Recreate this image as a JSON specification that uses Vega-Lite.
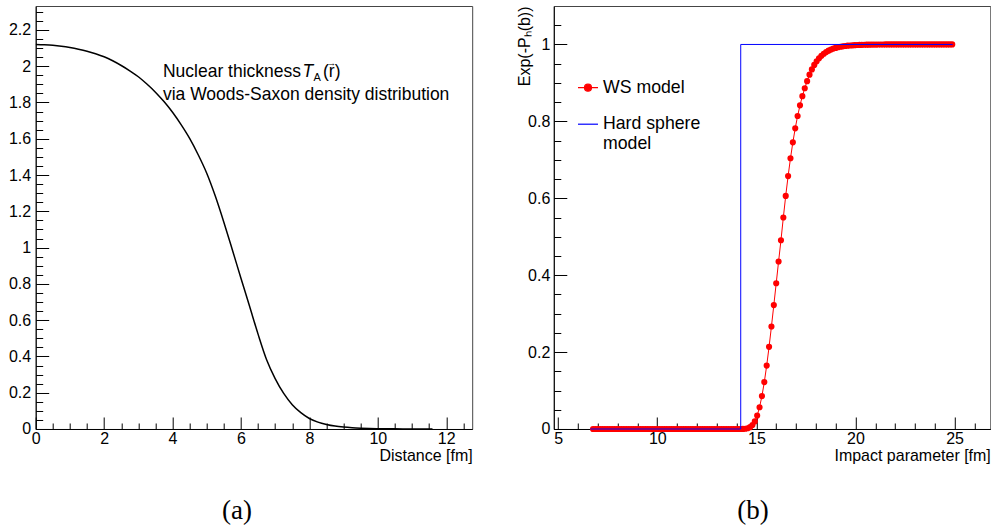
{
  "$schema": "https://vega.github.io/schema/vega-lite/v6.json",
  "padding": {"left": 7.7, "top": 5, "right": 0, "bottom": 0},
  "background": "white",
  "bounds": "flush",
  "spacing": 81.1,
  "config": {
    "font": "Liberation Sans",
    "view": {"stroke": "#444", "strokeWidth": 1},
    "axis": {
      "domainColor": "black", "tickColor": "black", "labelColor": "black", "titleColor": "black",
      "labelFontSize": 16, "titleFontSize": 16, "titleFontWeight": "normal", "grid": false,
      "labelFlush": false, "labelOverlap": false, "tickWidth": 1, "domainWidth": 1
    }
  },
  "datasets": {
    "thickness": [
      {"r": 0, "t": 2.12}, {"r": 0.25, "t": 2.118}, {"r": 0.5, "t": 2.115}, {"r": 0.75, "t": 2.11},
      {"r": 1, "t": 2.103}, {"r": 1.25, "t": 2.094}, {"r": 1.5, "t": 2.083}, {"r": 1.75, "t": 2.069},
      {"r": 2, "t": 2.052}, {"r": 2.25, "t": 2.03}, {"r": 2.5, "t": 2.004}, {"r": 2.75, "t": 1.975},
      {"r": 3, "t": 1.942}, {"r": 3.25, "t": 1.902}, {"r": 3.5, "t": 1.857}, {"r": 3.75, "t": 1.805},
      {"r": 4, "t": 1.746}, {"r": 4.25, "t": 1.678}, {"r": 4.5, "t": 1.602}, {"r": 4.75, "t": 1.512},
      {"r": 5, "t": 1.41}, {"r": 5.25, "t": 1.284}, {"r": 5.5, "t": 1.14}, {"r": 5.75, "t": 0.987},
      {"r": 6, "t": 0.831}, {"r": 6.25, "t": 0.678}, {"r": 6.5, "t": 0.523}, {"r": 6.75, "t": 0.382},
      {"r": 7, "t": 0.278}, {"r": 7.25, "t": 0.196}, {"r": 7.5, "t": 0.134}, {"r": 7.75, "t": 0.09},
      {"r": 8, "t": 0.058}, {"r": 8.25, "t": 0.038}, {"r": 8.5, "t": 0.025}, {"r": 8.75, "t": 0.016},
      {"r": 9, "t": 0.0105}, {"r": 9.25, "t": 0.0068}, {"r": 9.5, "t": 0.0044}, {"r": 9.75, "t": 0.0028},
      {"r": 10, "t": 0.0018}, {"r": 10.5, "t": 0.0008}, {"r": 11, "t": 0.0003}, {"r": 11.6, "t": 0.0001}
    ],
    "ws": [
      {"b": 6.76, "p": 0}, {"b": 6.88, "p": 0}, {"b": 7.0, "p": 0}, {"b": 7.12, "p": 0}, {"b": 7.24, "p": 0},
      {"b": 7.36, "p": 0}, {"b": 7.48, "p": 0}, {"b": 7.6, "p": 0}, {"b": 7.72, "p": 0}, {"b": 7.84, "p": 0},
      {"b": 7.96, "p": 0}, {"b": 8.08, "p": 0}, {"b": 8.2, "p": 0}, {"b": 8.32, "p": 0}, {"b": 8.44, "p": 0},
      {"b": 8.56, "p": 0}, {"b": 8.68, "p": 0}, {"b": 8.8, "p": 0}, {"b": 8.92, "p": 0}, {"b": 9.04, "p": 0},
      {"b": 9.16, "p": 0}, {"b": 9.28, "p": 0}, {"b": 9.4, "p": 0}, {"b": 9.52, "p": 0}, {"b": 9.64, "p": 0},
      {"b": 9.76, "p": 0}, {"b": 9.88, "p": 0}, {"b": 10.0, "p": 0}, {"b": 10.12, "p": 0}, {"b": 10.24, "p": 0},
      {"b": 10.36, "p": 0}, {"b": 10.48, "p": 0}, {"b": 10.6, "p": 0}, {"b": 10.72, "p": 0}, {"b": 10.84, "p": 0},
      {"b": 10.96, "p": 0}, {"b": 11.08, "p": 0}, {"b": 11.2, "p": 0}, {"b": 11.32, "p": 0}, {"b": 11.44, "p": 0},
      {"b": 11.56, "p": 0}, {"b": 11.68, "p": 0}, {"b": 11.8, "p": 0}, {"b": 11.92, "p": 0}, {"b": 12.04, "p": 0},
      {"b": 12.16, "p": 0}, {"b": 12.28, "p": 0}, {"b": 12.4, "p": 0}, {"b": 12.52, "p": 0}, {"b": 12.64, "p": 0},
      {"b": 12.76, "p": 0}, {"b": 12.88, "p": 0}, {"b": 13.0, "p": 0}, {"b": 13.12, "p": 0}, {"b": 13.24, "p": 0},
      {"b": 13.36, "p": 0}, {"b": 13.48, "p": 0}, {"b": 13.6, "p": 0}, {"b": 13.72, "p": 0}, {"b": 13.84, "p": 0},
      {"b": 13.96, "p": 0}, {"b": 14.08, "p": 0}, {"b": 14.2, "p": 0}, {"b": 14.32, "p": 0.0002}, {"b": 14.44, "p": 0.0007},
      {"b": 14.56, "p": 0.0019}, {"b": 14.68, "p": 0.0047}, {"b": 14.8, "p": 0.0102}, {"b": 14.92, "p": 0.0198},
      {"b": 15.04, "p": 0.0348}, {"b": 15.16, "p": 0.0566}, {"b": 15.28, "p": 0.0857}, {"b": 15.4, "p": 0.122},
      {"b": 15.52, "p": 0.165}, {"b": 15.64, "p": 0.2136}, {"b": 15.76, "p": 0.2666}, {"b": 15.88, "p": 0.3222},
      {"b": 16.0, "p": 0.379}, {"b": 16.12, "p": 0.4356}, {"b": 16.24, "p": 0.4908}, {"b": 16.36, "p": 0.55},
      {"b": 16.48, "p": 0.6062}, {"b": 16.6, "p": 0.6576}, {"b": 16.72, "p": 0.704}, {"b": 16.84, "p": 0.7454},
      {"b": 16.96, "p": 0.7819}, {"b": 17.08, "p": 0.8139}, {"b": 17.2, "p": 0.8416}, {"b": 17.32, "p": 0.8656},
      {"b": 17.44, "p": 0.8861}, {"b": 17.56, "p": 0.9046}, {"b": 17.68, "p": 0.9214}, {"b": 17.8, "p": 0.9352},
      {"b": 17.92, "p": 0.9467}, {"b": 18.04, "p": 0.9562}, {"b": 18.16, "p": 0.9641}, {"b": 18.28, "p": 0.9705},
      {"b": 18.4, "p": 0.9759}, {"b": 18.52, "p": 0.9802}, {"b": 18.64, "p": 0.9838}, {"b": 18.76, "p": 0.9867},
      {"b": 18.88, "p": 0.9892}, {"b": 19.0, "p": 0.9911}, {"b": 19.12, "p": 0.9927}, {"b": 19.24, "p": 0.9941},
      {"b": 19.36, "p": 0.9951}, {"b": 19.48, "p": 0.996}, {"b": 19.6, "p": 0.9968}, {"b": 19.72, "p": 0.9973},
      {"b": 19.84, "p": 0.9978}, {"b": 19.96, "p": 0.9982}, {"b": 20.08, "p": 0.9986}, {"b": 20.2, "p": 0.9988},
      {"b": 20.32, "p": 0.999}, {"b": 20.44, "p": 0.9992}, {"b": 20.56, "p": 0.9994}, {"b": 20.68, "p": 0.9995},
      {"b": 20.8, "p": 0.9996}, {"b": 20.92, "p": 0.9997}, {"b": 21.04, "p": 0.9997}, {"b": 21.16, "p": 0.9998},
      {"b": 21.28, "p": 0.9998}, {"b": 21.4, "p": 0.9999}, {"b": 21.52, "p": 1}, {"b": 21.64, "p": 1},
      {"b": 21.76, "p": 1}, {"b": 21.88, "p": 1}, {"b": 22.0, "p": 1}, {"b": 22.12, "p": 1}, {"b": 22.24, "p": 1},
      {"b": 22.36, "p": 1}, {"b": 22.48, "p": 1}, {"b": 22.6, "p": 1}, {"b": 22.72, "p": 1}, {"b": 22.84, "p": 1},
      {"b": 22.96, "p": 1}, {"b": 23.08, "p": 1}, {"b": 23.2, "p": 1}, {"b": 23.32, "p": 1}, {"b": 23.44, "p": 1},
      {"b": 23.56, "p": 1}, {"b": 23.68, "p": 1}, {"b": 23.8, "p": 1}, {"b": 23.92, "p": 1}, {"b": 24.04, "p": 1},
      {"b": 24.16, "p": 1}, {"b": 24.28, "p": 1}, {"b": 24.4, "p": 1}, {"b": 24.52, "p": 1}, {"b": 24.64, "p": 1},
      {"b": 24.76, "p": 1}, {"b": 24.88, "p": 1}
    ],
    "hs": [
      {"b": 6.62, "p": 0, "s": 0}, {"b": 14.21, "p": 0, "s": 1}, {"b": 14.21, "p": 1, "s": 2}, {"b": 24.9, "p": 1, "s": 3}
    ]
  },
  "hconcat": [
    {
      "width": 436.5,
      "height": 423,
      "title": {"text": "(a)", "orient": "bottom", "font": "Liberation Serif", "fontSize": 27, "fontWeight": "normal", "color": "black", "dx": -17, "offset": 35},
      "layer": [
        {
          "data": {"name": "thickness"},
          "mark": {"type": "line", "color": "black", "strokeWidth": 1.5, "interpolate": "monotone", "clip": true},
          "encoding": {
            "x": {
              "field": "r", "type": "quantitative",
              "scale": {"domain": [0, 12.76], "nice": false, "zero": false},
              "axis": {
                "title": "Distance [fm]", "titleAnchor": "end", "titleY": 18.5, "titleBaseline": "top",
                "values": [0, 0.5, 1, 1.5, 2, 2.5, 3, 3.5, 4, 4.5, 5, 5.5, 6, 6.5, 7, 7.5, 8, 8.5, 9, 9.5, 10, 10.5, 11, 11.5, 12, 12.5],
                "tickCount": 500,
                "labelExpr": "datum.value % 2 == 0 ? format(datum.value, '~g') : ''",
                "labelFontSize": {"condition": {"test": "datum.value % 2 == 0", "value": 16}, "value": 0.1},
                "tickSize": {"condition": {"test": "datum.value % 2 == 0", "value": -12}, "value": -6},
                "labelPadding": 13.5, "labelOverlap": false
              }
            },
            "y": {
              "field": "t", "type": "quantitative",
              "scale": {"domain": [0, 2.332], "nice": false, "zero": false},
              "axis": {
                "title": null,
                "values": [0, 0.05, 0.1, 0.15, 0.2, 0.25, 0.3, 0.35, 0.4, 0.45, 0.5, 0.55, 0.6, 0.65, 0.7, 0.75, 0.8, 0.85, 0.9, 0.95, 1, 1.05, 1.1, 1.15, 1.2, 1.25, 1.3, 1.35, 1.4, 1.45, 1.5, 1.55, 1.6, 1.65, 1.7, 1.75, 1.8, 1.85, 1.9, 1.95, 2, 2.05, 2.1, 2.15, 2.2, 2.25, 2.3],
                "tickCount": 500,
                "labelExpr": "abs(datum.value * 5 - round(datum.value * 5)) < 0.001 ? format(datum.value, '~g') : ''",
                "labelFontSize": {"condition": {"test": "abs(datum.value * 5 - round(datum.value * 5)) < 0.001", "value": 16}, "value": 0.1},
                "tickSize": {"condition": {"test": "abs(datum.value * 5 - round(datum.value * 5)) < 0.001", "value": -13}, "value": -7},
                "labelPadding": 18, "labelOverlap": false
              }
            }
          }
        },
        {
          "data": {"values": [{}]},
          "mark": {"type": "text", "text": "Nuclear thickness", "align": "left", "baseline": "alphabetic", "fontSize": 17.5, "color": "black"},
          "encoding": {"x": {"datum": 3.72, "type": "quantitative"}, "y": {"datum": 1.94, "type": "quantitative"}}
        },
        {
          "data": {"values": [{}]},
          "mark": {"type": "text", "text": "T", "align": "left", "baseline": "alphabetic", "fontSize": 17.5, "fontStyle": "italic", "color": "black"},
          "encoding": {"x": {"datum": 7.8, "type": "quantitative"}, "y": {"datum": 1.94, "type": "quantitative"}}
        },
        {
          "data": {"values": [{}]},
          "mark": {"type": "text", "text": "A", "align": "left", "baseline": "alphabetic", "fontSize": 11, "color": "black"},
          "encoding": {"x": {"datum": 8.124, "type": "quantitative"}, "y": {"datum": 1.918, "type": "quantitative"}}
        },
        {
          "data": {"values": [{}]},
          "mark": {"type": "text", "text": "(r)", "align": "left", "baseline": "alphabetic", "fontSize": 17.5, "color": "black"},
          "encoding": {"x": {"datum": 8.4, "type": "quantitative"}, "y": {"datum": 1.94, "type": "quantitative"}}
        },
        {
          "data": {"values": [{}]},
          "mark": {"type": "text", "text": "→", "align": "center", "baseline": "alphabetic", "fontSize": 9, "color": "black"},
          "encoding": {"x": {"datum": 8.645, "type": "quantitative"}, "y": {"datum": 2.0, "type": "quantitative"}}
        },
        {
          "data": {"values": [{}]},
          "mark": {"type": "text", "text": "via Woods-Saxon density distribution", "align": "left", "baseline": "alphabetic", "fontSize": 17.5, "color": "black"},
          "encoding": {"x": {"datum": 3.72, "type": "quantitative"}, "y": {"datum": 1.812, "type": "quantitative"}}
        }
      ]
    },
    {
      "width": 436.5,
      "height": 423,
      "title": {"text": "(b)", "orient": "bottom", "font": "Liberation Serif", "fontSize": 27, "fontWeight": "normal", "color": "black", "dx": -19, "offset": 35},
      "encoding": {
        "x": {
          "field": "b", "type": "quantitative",
          "scale": {"domain": [4.78, 26.8], "nice": false, "zero": false},
          "axis": {
            "title": "Impact parameter [fm]", "titleAnchor": "end", "titleY": 18.5, "titleBaseline": "top",
            "values": [5, 6, 7, 8, 9, 10, 11, 12, 13, 14, 15, 16, 17, 18, 19, 20, 21, 22, 23, 24, 25, 26],
            "tickCount": 500,
            "labelExpr": "datum.value % 5 == 0 ? format(datum.value, '~g') : ''",
            "labelFontSize": {"condition": {"test": "datum.value % 5 == 0", "value": 16}, "value": 0.1},
            "tickSize": {"condition": {"test": "datum.value % 5 == 0", "value": -12}, "value": -6},
            "labelPadding": 13.5, "labelOverlap": false
          }
        },
        "y": {
          "field": "p", "type": "quantitative",
          "scale": {"domain": [0, 1.1], "nice": false, "zero": false},
          "axis": {
            "title": "Exp(-Pₕ(b))", "titleAnchor": "end", "titlePadding": -5,
            "values": [0, 0.05, 0.1, 0.15, 0.2, 0.25, 0.3, 0.35, 0.4, 0.45, 0.5, 0.55, 0.6, 0.65, 0.7, 0.75, 0.8, 0.85, 0.9, 0.95, 1, 1.05],
            "tickCount": 500,
            "labelExpr": "abs(datum.value * 5 - round(datum.value * 5)) < 0.001 ? format(datum.value, '~g') : ''",
            "labelFontSize": {"condition": {"test": "abs(datum.value * 5 - round(datum.value * 5)) < 0.001", "value": 16}, "value": 0.1},
            "tickSize": {"condition": {"test": "abs(datum.value * 5 - round(datum.value * 5)) < 0.001", "value": -13}, "value": -7},
            "labelPadding": 17, "labelOverlap": false
          }
        }
      },
      "layer": [
        {
          "data": {"name": "ws"},
          "mark": {"type": "line", "strokeWidth": 1, "point": {"filled": true, "size": 38}},
          "encoding": {
            "color": {
              "datum": "WS model",
              "scale": {"domain": ["WS model", "Hard sphere model"], "range": ["#ff0000", "#0000ff"]},
              "legend": {
                "orient": "none", "legendX": 541.3, "legendY": 70.7, "title": null,
                "labelFont": "Liberation Sans", "labelFontSize": 17.7, "labelColor": "black", "labelLimit": 300,
                "symbolSize": 400, "symbolStrokeWidth": 1.2, "labelOffset": 4, "rowPadding": 16.5,
                "labelExpr": "datum.label == 'Hard sphere model' ? ['Hard sphere', 'model'] : datum.label",
                "encode": {
                  "symbols": {"update": {
                    "shape": {"signal": "datum.value == 'WS model' ? 'M-1,0L1,0M-0.35,0A0.35,0.35 0 1,1 0.35,0A0.35,0.35 0 1,1 -0.35,0' : 'stroke'"},
                    "fill": {"signal": "datum.value == 'WS model' ? '#ff0000' : 'transparent'"},
                    "stroke": {"signal": "datum.value == 'WS model' ? '#ff0000' : '#0000ff'"}
                  }},
                  "labels": {"update": {"lineHeight": {"value": 20}}}
                }
              }
            }
          }
        },
        {
          "data": {"name": "hs"},
          "mark": {"type": "line", "strokeWidth": 1},
          "encoding": {
            "color": {"datum": "Hard sphere model"},
            "order": {"field": "s", "type": "quantitative"}
          }
        }
      ]
    }
  ]
}
